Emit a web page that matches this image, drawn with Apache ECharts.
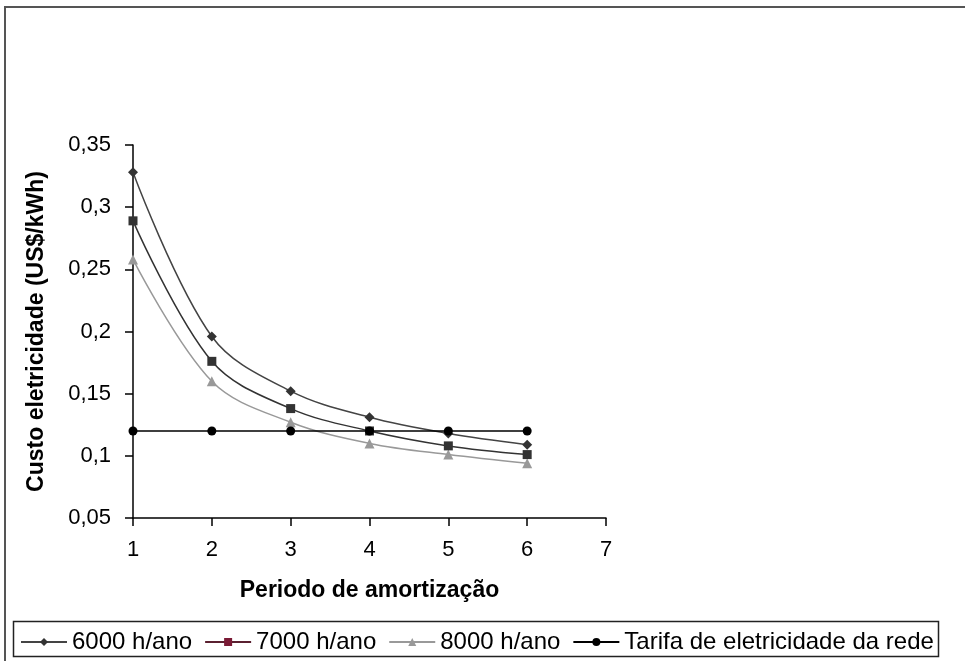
<!DOCTYPE html>
<html>
<head>
<meta charset="utf-8">
<script src="https://cdn.jsdelivr.net/npm/echarts@6/dist/echarts.min.js"></script>
<style>
  html, body { margin: 0; padding: 0; background: #fff; }
  #chart { width: 965px; height: 661px; }
</style>
</head>
<body>
<div id="chart"></div>
<script>
// Amortization period (years)
const periods = [1, 2, 3, 4, 5, 6];
// Electricity cost (US$/kWh) for each yearly operating regime
const cost6000 = [0.328, 0.196, 0.152, 0.131, 0.118, 0.109];
const cost7000 = [0.289, 0.176, 0.138, 0.120, 0.108, 0.101];
const cost8000 = [0.258, 0.160, 0.127, 0.110, 0.101, 0.094];
// Grid electricity tariff
const tariff = [0.12, 0.12, 0.12, 0.12, 0.12, 0.12];
const seriesNames = ['6000 h/ano', '7000 h/ano', '8000 h/ano', 'Tarifa de eletricidade da rede'];

const pairs = ys => periods.map((x, i) => [x, ys[i]]);
const FONT = 'Liberation Sans, Arial, sans-serif';
const fmt = v => String(+v.toFixed(2)).replace('.', ',');

const chart = echarts.init(document.getElementById('chart'), null, { renderer: 'canvas' });
chart.setOption({
  animation: false,
  backgroundColor: '#fff',
  textStyle: { fontFamily: FONT },
  grid: { left: 133, top: 145, right: 359, bottom: 143, containLabel: false },
  xAxis: {
    type: 'value', min: 1, max: 7, interval: 1,
    name: 'Periodo de amortização', nameLocation: 'middle', nameGap: 61,
    nameTextStyle: { fontFamily: FONT, fontSize: 23, fontWeight: 'bold', color: '#000' },
    axisLine: { lineStyle: { color: '#000', width: 1.5 } },
    axisTick: { show: true, length: 8, lineStyle: { color: '#000', width: 1.5 } },
    axisLabel: { fontFamily: FONT, fontSize: 22, color: '#000', margin: 21, formatter: v => String(v) },
    splitLine: { show: false }
  },
  yAxis: {
    type: 'value', min: 0.05, max: 0.35, interval: 0.05,
    name: 'Custo eletricidade (US$/kWh)', nameLocation: 'middle', nameGap: 85,
    nameTextStyle: { fontFamily: FONT, fontSize: 23, fontWeight: 'bold', color: '#000' },
    axisLine: { show: true, lineStyle: { color: '#000', width: 1.5 } },
    axisTick: { show: true, length: 8, lineStyle: { color: '#000', width: 1.5 } },
    axisLabel: { fontFamily: FONT, fontSize: 22, color: '#000', margin: 22, formatter: fmt },
    splitLine: { show: false }
  },
  legend: {
    left: 15, top: 625, itemWidth: 46, itemHeight: 10, itemGap: 12,
    textStyle: { fontFamily: FONT, fontSize: 24, color: '#000' },
    data: [
      { name: seriesNames[0] },
      { name: seriesNames[1], itemStyle: { color: '#7a1a35' }, lineStyle: { color: '#5a2030' } },
      { name: seriesNames[2] },
      { name: seriesNames[3] }
    ]
  },
  graphic: [
    { type: 'rect', shape: { x: 5, y: 7, width: 970, height: 670 }, style: { fill: 'none', stroke: '#555', lineWidth: 2 }, silent: true },
    { type: 'rect', shape: { x: 13.5, y: 621.5, width: 925, height: 35 }, style: { fill: 'none', stroke: '#222', lineWidth: 1.5 }, silent: true }
  ],
  series: [
    { name: seriesNames[0], type: 'line', data: pairs(cost6000), smooth: 0.35,
      symbol: 'diamond', symbolSize: 10,
      lineStyle: { color: '#444', width: 1.5 }, itemStyle: { color: '#333' }, z: 4 },
    { name: seriesNames[1], type: 'line', data: pairs(cost7000), smooth: 0.35,
      symbol: 'rect', symbolSize: 9,
      lineStyle: { color: '#333', width: 1.5 }, itemStyle: { color: '#333' }, z: 3 },
    { name: seriesNames[2], type: 'line', data: pairs(cost8000), smooth: 0.35,
      symbol: 'triangle', symbolSize: 10,
      lineStyle: { color: '#999', width: 1.5 }, itemStyle: { color: '#999' }, z: 2 },
    { name: seriesNames[3], type: 'line', data: pairs(tariff),
      symbol: 'circle', symbolSize: 9,
      lineStyle: { color: '#000', width: 1.5 }, itemStyle: { color: '#000' }, z: 5 }
  ]
});
</script>
</body>
</html>
